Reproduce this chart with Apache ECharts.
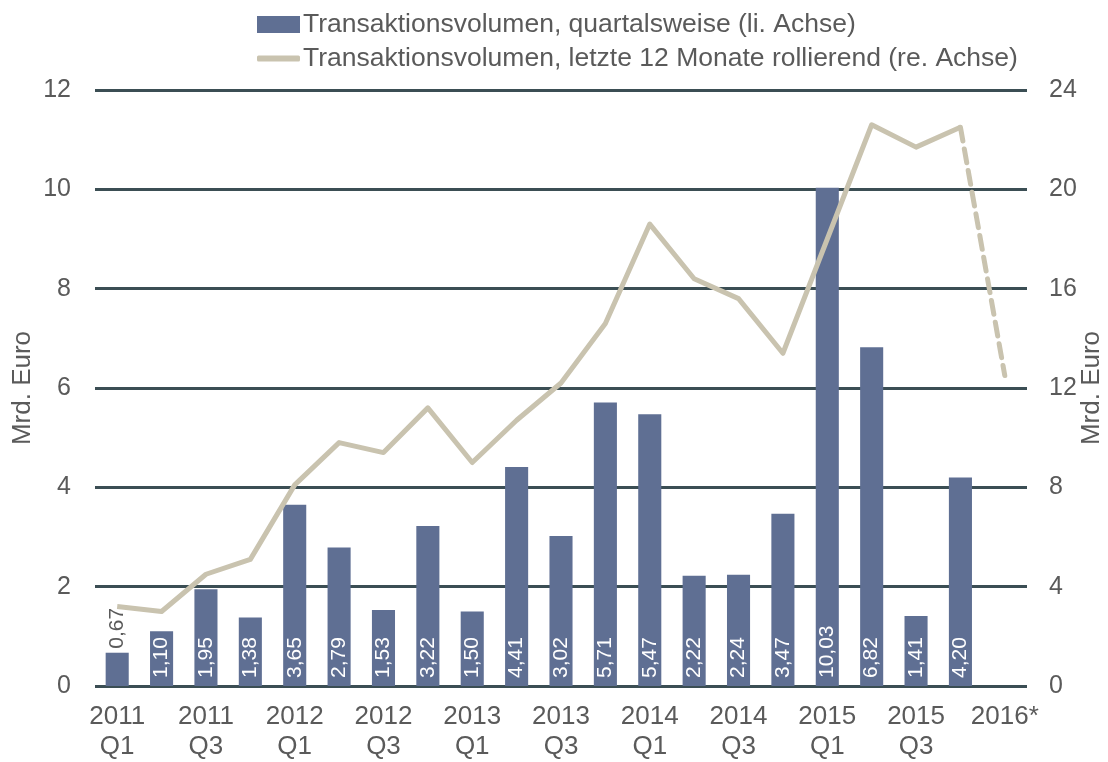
<!DOCTYPE html>
<html><head><meta charset="utf-8">
<script src="https://cdn.jsdelivr.net/npm/echarts@6/dist/echarts.min.js"></script>
<style>html,body{margin:0;padding:0;background:#fff}#c{width:1108px;height:762px}</style>
</head><body><div id="c"></div>
<script>
const categories = ['2011\nQ1','2011\nQ2','2011\nQ3','2011\nQ4','2012\nQ1','2012\nQ2','2012\nQ3','2012\nQ4','2013\nQ1','2013\nQ2','2013\nQ3','2013\nQ4','2014\nQ1','2014\nQ2','2014\nQ3','2014\nQ4','2015\nQ1','2015\nQ2','2015\nQ3','2015\nQ4','2016*'];
const quarterly = [0.67,1.10,1.95,1.38,3.65,2.79,1.53,3.22,1.50,4.41,3.02,5.71,5.47,2.22,2.24,3.47,10.03,6.82,1.41,4.20,null];
const rolling = [3.2,3.0,4.5,5.1,8.1,9.8,9.4,11.2,9.0,10.7,12.2,14.6,18.6,16.4,15.6,13.4,18.0,22.6,21.7,22.5,12.5];
const leftTicks = {min:0,max:12,interval:2};
const rightTicks = {min:0,max:24,interval:4};
const barName = 'Transaktionsvolumen, quartalsweise (li. Achse)';
const lineName = 'Transaktionsvolumen, letzte 12 Monate rollierend (re. Achse)';

const solid = rolling.map((v,i)=> i<=19 ? v : null);
const dashed = rolling.map((v,i)=> i>=19 ? v : null);
const FONT = 'Liberation Sans, Arial, sans-serif';
const GRAY = '#5a5a5a';
const BAR = '#5f6f93';
const LINE = '#c9c3af';

const chart = echarts.init(document.getElementById('c'));
chart.setOption({
  animation:false,
  textStyle:{fontFamily:FONT},
  legend:[
    {data:[barName],left:252,top:6,itemWidth:43,itemHeight:17,itemGap:4,icon:'rect',
     textStyle:{fontSize:26.5,color:GRAY,fontFamily:FONT,padding:[0,0,0,-2]}},
    {data:[lineName],left:252,top:40,itemWidth:43,itemHeight:6,icon:'roundRect',
     textStyle:{fontSize:26.5,color:GRAY,fontFamily:FONT,padding:[0,0,0,-2]}}
  ],
  grid:{left:95,right:81,top:90,bottom:76,containLabel:false,outerBoundsMode:'none'},
  xAxis:{type:'category',data:categories,
    axisLine:{show:false},axisTick:{show:false},
    axisLabel:{interval:1,color:GRAY,fontSize:26,lineHeight:30,margin:16,fontFamily:FONT}},
  yAxis:[
    {type:'value',min:leftTicks.min,max:leftTicks.max,interval:leftTicks.interval,
     name:'Mrd. Euro',nameLocation:'middle',nameRotate:90,nameGap:59,nameMoveOverlap:false,
     nameTextStyle:{fontSize:26,color:GRAY,fontFamily:FONT},
     axisLine:{show:false},axisTick:{show:false},
     axisLabel:{color:GRAY,fontSize:25,margin:24,fontFamily:FONT},
     splitLine:{lineStyle:{color:'#3b4e54',width:3}}},
    {type:'value',min:rightTicks.min,max:rightTicks.max,interval:rightTicks.interval,
     name:'Mrd. Euro',nameLocation:'middle',nameRotate:90,nameGap:52,nameMoveOverlap:false,
     nameTextStyle:{fontSize:26,color:GRAY,fontFamily:FONT},
     axisLine:{show:false},axisTick:{show:false},
     axisLabel:{color:GRAY,fontSize:25,margin:22,fontFamily:FONT},
     splitLine:{show:false}}
  ],
  series:[
    {name:barName,type:'bar',yAxisIndex:0,barWidth:'52%',
     itemStyle:{color:BAR},
     data:quarterly.map((v,i)=> i===0 ? {value:v,label:{position:'top',color:GRAY,distance:4}} : v),
     label:{show:true,position:'insideBottom',rotate:90,align:'left',verticalAlign:'middle',distance:8,
       color:'#fff',fontSize:21,fontFamily:FONT,
       formatter:p=> p.value==null?'':p.value.toFixed(2).replace('.',','),}},
    {name:lineName,type:'line',yAxisIndex:1,data:solid,symbol:'none',
     lineStyle:{color:LINE,width:5,join:'round'},itemStyle:{color:LINE},z:3},
    {name:'_dash',type:'line',yAxisIndex:1,data:dashed,symbol:'none',
     lineStyle:{color:LINE,width:5,type:[14,8],cap:'round'},itemStyle:{color:LINE},z:3}
  ]
});
</script></body></html>
